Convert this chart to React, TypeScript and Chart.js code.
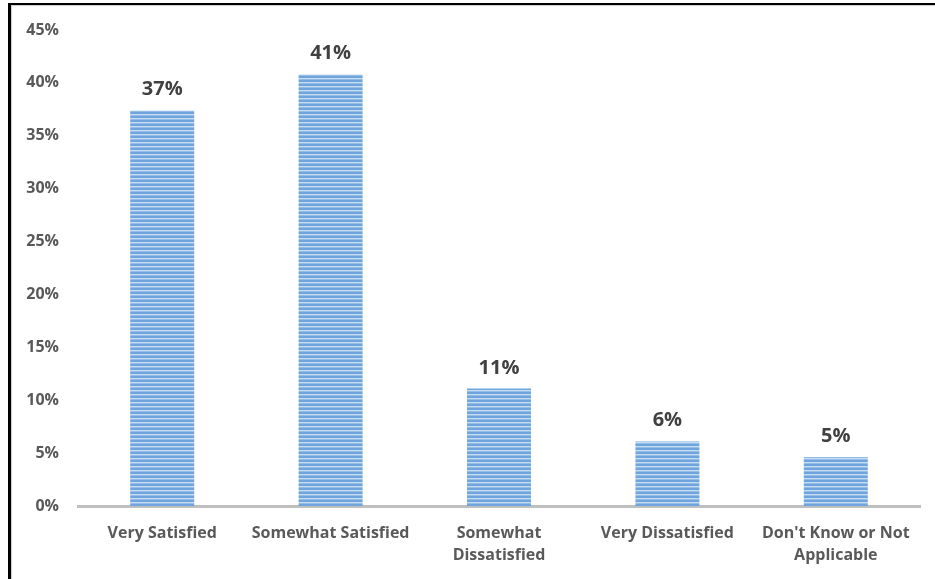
import React, { useEffect, useRef } from "react";
import { Chart, registerables } from "chart.js";

Chart.register(...registerables);

const categories: (string | string[])[] = [
  "Very Satisfied",
  "Somewhat Satisfied",
  ["Somewhat", "Dissatisfied"],
  "Very Dissatisfied",
  ["Don't Know or Not", "Applicable"],
];
const values: number[] = [37.4, 40.8, 11.1, 6.1, 4.6];
const valueLabels: string[] = ["37%", "41%", "11%", "6%", "5%"];
const yTicks: number[] = [0, 5, 10, 15, 20, 25, 30, 35, 40, 45];

const FONT = "'Open Sans', Lato, sans-serif";

function makePattern(): CanvasPattern | string {
  const c = document.createElement("canvas");
  c.width = 4;
  c.height = 4;
  const ctx = c.getContext("2d");
  if (!ctx) return "#5b9bd5";
  ctx.fillStyle = "#6fa5dc";
  ctx.fillRect(0, 0, 4, 2);
  ctx.fillStyle = "#c5dcf2";
  ctx.fillRect(0, 2, 4, 1);
  ctx.fillStyle = "#93bde6";
  ctx.fillRect(0, 3, 4, 1);
  const p = ctx.createPattern(c, "repeat");
  return p || "#5b9bd5";
}

const labelPlugin = {
  id: "valueLabels",
  afterDatasetsDraw(chart: any) {
    const ctx = chart.ctx;
    const meta = chart.getDatasetMeta(0);
    ctx.save();
    ctx.font = `bold 20px ${FONT}`;
    ctx.fillStyle = "#404040";
    ctx.textAlign = "center";
    ctx.textBaseline = "alphabetic";
    meta.data.forEach((bar: any, i: number) => {
      ctx.fillText(valueLabels[i], bar.x, bar.y - 15);
    });
    ctx.restore();
  },
};

export default function App() {
  const ref = useRef<HTMLCanvasElement | null>(null);
  useEffect(() => {
    if (!ref.current) return;
    const chart = new Chart(ref.current, {
      type: "bar",
      data: {
        labels: categories as any,
        datasets: [
          {
            data: values,
            backgroundColor: makePattern() as any,
            borderWidth: 0,
            barPercentage: 1,
            categoryPercentage: 0.38,
          },
        ],
      },
      options: {
        animation: false,
        responsive: false,
        maintainAspectRatio: false,
        layout: { padding: { top: 30, right: 15, left: 0, bottom: 0 } },
        plugins: {
          legend: { display: false },
          tooltip: { enabled: false },
        },
        scales: {
          x: {
            grid: { display: false },
            border: { display: true, color: "#bfbfbf", width: 3 },
            ticks: {
              color: "#595959",
              font: { family: FONT, size: 16, weight: "bold", lineHeight: 1.38 },
              padding: 8,
              maxRotation: 0,
              autoSkip: false,
            },
            afterFit(scale: any) {
              scale.height = 73;
            },
          },
          y: {
            min: 0,
            max: 45,
            afterBuildTicks(scale: any) {
              scale.ticks = yTicks.map((v) => ({ value: v }));
            },
            grid: { display: false },
            border: { display: false },
            ticks: {
              color: "#595959",
              font: { family: FONT, size: 16, weight: "bold" },
              padding: 11,
              callback: (v: any) => `${v}%`,
            },
            afterFit(scale: any) {
              scale.width = 78;
            },
          },
        },
      },
      plugins: [labelPlugin],
    });
    return () => chart.destroy();
  }, []);

  return (
    <div style={{ position: "fixed", left: 0, top: 0, width: 935, height: 579, background: "#fff" }}>
      <canvas ref={ref} width={935} height={579} style={{ position: "absolute", left: 0, top: 0 }} />
      <div
        style={{
          position: "absolute",
          left: 8,
          top: 3,
          width: 1000,
          height: 1000,
          borderTop: "2px solid #000",
          borderLeft: "3px solid #000",
          boxShadow: "1px 1px 1px #ccc inset",
          pointerEvents: "none",
        }}
      />
    </div>
  );
}
